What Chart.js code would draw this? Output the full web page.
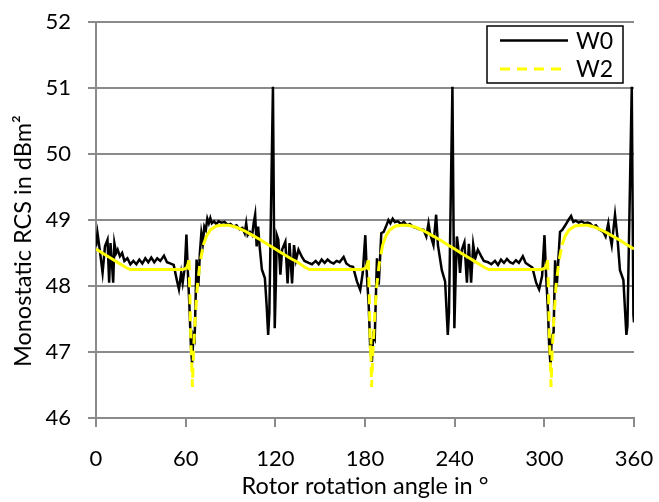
<!DOCTYPE html>
<html>
<head>
<meta charset="utf-8">
<script src="https://cdn.jsdelivr.net/npm/chart.js@4/dist/chart.umd.min.js"></script>
<style>
  html, body { margin: 0; padding: 0; background: #fff; }
  #wrap { width: 659px; height: 502px; position: relative; }
</style>
</head>
<body>
<div id="wrap"><canvas id="c" width="659" height="502"></canvas></div>
<script>
// ---- data ----
const seriesNames = ["W0", "W2"];
const xTitle = "Rotor rotation angle in °";
const yTitle = "Monostatic RCS in dBm²";

const w0Angles = [
  0,1,2.5,4.4,6,7.7,8.8,9.7,10.5,11.5,12.3,13.5,14.5,16,17.5,19,21,23,25,27,29,31,33,35,37,39,41,43,45.5,47.5,50,52,54,55.5,57,58,59.5,60.5,61.5,62.5,63.5,64.3,65.2,66,67.3,68.5,69.5,70.5,71.5,72.5,73.5,74.5,75.5,76.5,77.5,79,80.5,82,84,86,88,90,92,94,96,98,99.5,100.5,101.5,103,104.5,105.5,106.5,107.5,108.5,109.5,111,113,114.2,115.2,116,118.4,119.6,
  120.4,121,122,123.4,124.5,126.7,128.2,129.5,131.2,132.5,133.8,135.5,137.8,139.5,142.3,144.5,147,149,151,153,155,157,159,161,163,165.7,167.5,170,172,174.6,176.8,178.5,180.2,181.3,182.5,183.5,184.6,185.5,186.5,188,189.2,190.9,192.5,194,195.7,197,198.5,200,202,204,206,208,210,212,214,216.5,219.2,221,222.5,223.5,225.8,227.6,228.8,231.4,233.6,235.4,236.2,238.5,239.8,
  240.6,241.5,242.3,243.6,244.8,246.5,248.2,249.5,251,252.4,253.8,255.5,257.8,259.5,262.3,264.5,267,269,271,273,275,277,279,281,283,285.6,287.5,290,292,294.5,296.5,298.5,300.1,301.2,302.4,303.3,304.2,305,306.2,307.2,308.3,310.5,312,314,316.1,317.9,319.4,321,323,325,327,329,330.6,332.5,334.5,336.5,339.5,341,342.8,343.8,345.1,347.3,348.9,350.6,352.9,354.9,355.6,358.5,359.6,360
];
const w0Values = [
  48.60,48.80,48.55,48.20,48.60,48.70,48.05,48.65,48.40,48.05,48.65,48.50,48.55,48.45,48.50,48.38,48.42,48.33,48.38,48.33,48.40,48.34,48.42,48.36,48.43,48.36,48.42,48.38,48.46,48.36,48.34,48.32,48.10,47.95,48.20,48.05,48.30,48.78,48.20,47.70,47.10,46.83,47.25,47.20,48.40,48.00,48.50,48.80,48.65,48.90,48.85,49.02,48.95,49.03,48.95,48.98,48.94,48.98,48.96,48.97,48.93,48.94,48.90,48.92,48.86,48.88,48.80,48.95,48.77,48.82,48.77,48.95,49.08,48.60,48.90,48.60,48.25,48.12,47.70,47.26,47.60,51.02,47.36,
  48.10,48.77,48.70,48.17,48.55,48.67,48.04,48.65,48.04,48.62,48.39,48.55,48.44,48.38,48.35,48.33,48.38,48.33,48.40,48.35,48.40,48.36,48.34,48.38,48.36,48.44,48.34,48.30,48.29,48.07,47.94,48.20,48.77,48.15,47.70,47.05,46.85,47.25,47.20,48.42,48.02,48.80,48.82,48.90,49.00,48.95,49.02,48.97,48.98,48.94,48.97,48.92,48.94,48.90,48.88,48.86,48.85,48.75,48.95,48.80,48.62,49.08,48.62,48.24,48.07,47.26,47.60,51.02,47.36,
  48.10,48.75,48.60,48.20,48.55,48.66,48.05,48.64,48.05,48.63,48.42,48.55,48.45,48.38,48.36,48.33,48.38,48.32,48.40,48.35,48.41,48.36,48.34,48.39,48.35,48.45,48.35,48.31,48.28,48.05,47.95,48.15,48.77,48.15,47.65,47.05,46.80,47.23,47.30,48.39,47.99,48.82,48.85,48.92,49.00,49.06,48.97,48.99,48.96,48.98,48.95,48.96,48.95,48.90,48.92,48.86,48.82,48.75,48.95,48.78,48.62,49.08,48.74,48.24,48.09,47.26,47.40,51.02,47.56,47.45
];

const w2Angles = [
  0,5,10,15,20,23,40,58,60.5,61.5,62.2,62.8,63.4,64.0,64.5,65.2,66.3,67.8,69.6,71.8,74,76.5,80.5,84.5,89,94,99,104.5,110,115.5,120,
  125,130,135,140,143,160,178,180.5,181.5,182.2,182.8,183.4,184.0,184.4,185.2,186.3,187.8,189.6,191.8,194,196.5,200.5,204.5,209,214,219,224.5,230,235.5,240,
  245,250,255,260,263,280,298,300.5,301.5,302.2,302.8,303.4,304.0,304.5,305.2,306.3,307.8,309.6,311.8,314,316.5,320.5,324.5,329,334,339,344.5,350,355.5,360
];
const w2Values = [
  48.56,48.49,48.42,48.35,48.28,48.25,48.25,48.25,48.27,48.33,48.39,47.90,47.20,46.85,46.47,46.98,47.48,47.99,48.35,48.62,48.76,48.85,48.91,48.92,48.92,48.89,48.84,48.77,48.70,48.62,48.56,
  48.49,48.42,48.36,48.28,48.25,48.25,48.25,48.27,48.33,48.39,47.90,47.20,46.85,46.47,46.98,47.48,47.99,48.35,48.62,48.76,48.85,48.91,48.92,48.92,48.89,48.84,48.77,48.70,48.62,48.56,
  48.49,48.42,48.35,48.28,48.25,48.25,48.25,48.27,48.33,48.39,47.90,47.20,46.85,46.47,46.98,47.48,47.99,48.35,48.62,48.76,48.85,48.91,48.92,48.92,48.89,48.84,48.77,48.70,48.62,48.56
];

const xMin = 0, xMax = 360, xStep = 60;
const yMin = 46, yMax = 52, yStep = 1;

// ---- styling ----
const FONT = "Lato, 'Open Sans', sans-serif";
const GRID = "#8a8a8a";
const W0_COLOR = "#000000";
const W2_COLOR = "#ffff00";
const W2_DASH = [10, 7];
const TICK_SIZE = 22;
const TITLE_SIZE = 23.5;

const toPts = (xs, ys) => xs.map((x, i) => ({ x: x, y: ys[i] }));

const zeroPad = s => { s.paddingTop = 0; s.paddingBottom = 0; s.paddingLeft = 0; s.paddingRight = 0; };

const legendPlugin = {
  id: 'boxLegend',
  afterDraw(chart) {
    const ctx = chart.ctx;
    const bx = 487, by = 26, bw = 136, bh = 57;
    ctx.save();
    ctx.fillStyle = '#fff';
    ctx.fillRect(bx, by, bw, bh);
    ctx.strokeStyle = '#000';
    ctx.lineWidth = 1.5;
    ctx.strokeRect(bx, by, bw, bh);
    const rows = [
      { y: 40.5, color: W0_COLOR, dash: [], w: 2.5, text: seriesNames[0] },
      { y: 69, color: W2_COLOR, dash: W2_DASH, w: 3, text: seriesNames[1] }
    ];
    ctx.font = "23px " + FONT;
    ctx.textBaseline = 'middle';
    ctx.textAlign = 'left';
    rows.forEach(r => {
      ctx.beginPath();
      ctx.setLineDash(r.dash);
      ctx.strokeStyle = r.color;
      ctx.lineWidth = r.w;
      ctx.moveTo(500, r.y);
      ctx.lineTo(568, r.y);
      ctx.stroke();
      ctx.setLineDash([]);
      ctx.fillStyle = '#000';
      ctx.fillText(r.text, 576, r.y + 1);
    });
    ctx.restore();
  }
};

new Chart(document.getElementById('c'), {
  type: 'line',
  data: {
    datasets: [
      {
        label: seriesNames[0],
        data: toPts(w0Angles, w0Values),
        borderColor: W0_COLOR,
        borderWidth: 2.5,
        pointRadius: 0,
        tension: 0,
        order: 1
      },
      {
        label: seriesNames[1],
        data: toPts(w2Angles, w2Values),
        borderColor: W2_COLOR,
        borderWidth: 3,
        pointRadius: 0,
        tension: 0,
        order: 0,
        segment: {
          borderDash: c => Math.abs(c.p1.y - c.p0.y) > 12 ? W2_DASH : undefined
        }
      }
    ]
  },
  options: {
    responsive: false,
    animation: false,
    events: [],
    layout: { padding: { top: 22, right: 25, left: 0, bottom: 0 } },
    plugins: {
      legend: { display: false },
      tooltip: { enabled: false }
    },
    scales: {
      x: {
        type: 'linear',
        min: xMin, max: xMax,
        afterFit: s => { s.height = 84; zeroPad(s); },
        ticks: { stepSize: xStep, color: '#000', font: { family: FONT, size: TICK_SIZE }, padding: 19, maxRotation: 0 },
        grid: { drawOnChartArea: false, drawTicks: true, tickLength: 9, color: GRID, lineWidth: 2 },
        border: { display: true, color: GRID, width: 2 },
        title: { display: true, text: xTitle, color: '#000', font: { family: FONT, size: TITLE_SIZE }, padding: { top: 0, bottom: 1 } }
      },
      y: {
        min: yMin, max: yMax,
        afterFit: s => { s.width = 96; zeroPad(s); },
        ticks: { stepSize: yStep, color: '#000', font: { family: FONT, size: TICK_SIZE }, padding: 17 },
        grid: { color: GRID, lineWidth: 2, tickLength: 8 },
        border: { display: true, color: GRID, width: 2 },
        title: { display: true, text: yTitle + "       ", color: '#000', font: { family: FONT, size: TITLE_SIZE }, padding: { top: 9, bottom: 0 } }
      }
    }
  },
  plugins: [legendPlugin]
});
</script>
</body>
</html>
